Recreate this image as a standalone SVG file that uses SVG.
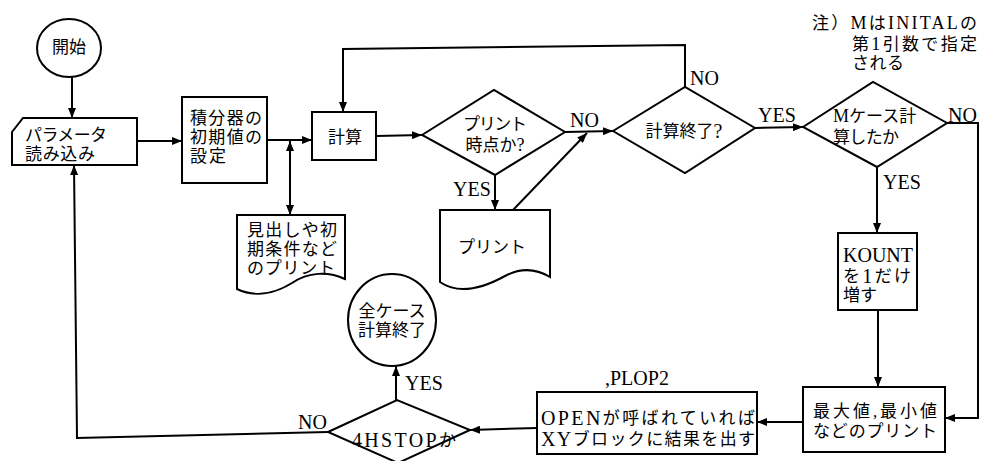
<svg xmlns="http://www.w3.org/2000/svg" width="981" height="461" viewBox="0 0 981 461">
<style>
.s{fill:#fff;stroke:#000;stroke-width:2;stroke-linejoin:miter}
.c{fill:none;stroke:#000;stroke-width:2}
.t{font-family:"Liberation Serif","Noto Sans CJK JP",serif;font-size:17px;fill:#000;dominant-baseline:central}
.l{font-family:"Liberation Serif","Noto Sans CJK JP",serif;font-size:20px;fill:#000;dominant-baseline:central}
.e{font-size:20px}
.f{font-size:18px}
.m{text-anchor:middle}
</style>
<defs>
<marker id="a" viewBox="0 0 10 8" refX="10" refY="4" markerWidth="10" markerHeight="8" markerUnits="userSpaceOnUse" orient="auto">
<path d="M0,0 L10,4 L0,8 Z" fill="#000"/>
</marker>
<marker id="as" viewBox="0 0 10 8" refX="10" refY="4" markerWidth="10" markerHeight="8" markerUnits="userSpaceOnUse" orient="auto-start-reverse">
<path d="M0,0 L10,4 L0,8 Z" fill="#000"/>
</marker>
</defs>
<rect width="981" height="461" fill="#fff"/>
<g id="connectors">
<line class="c" x1="72" y1="76" x2="72" y2="118" marker-end="url(#a)"/>
<line class="c" x1="137" y1="141" x2="182" y2="141" marker-end="url(#a)"/>
<line class="c" x1="267" y1="140" x2="312" y2="140" marker-end="url(#a)"/>
<line class="c" x1="290" y1="141" x2="290" y2="215" marker-start="url(#as)" marker-end="url(#a)"/>
<line class="c" x1="376" y1="136" x2="422" y2="135" marker-end="url(#a)"/>
<line class="c" x1="565" y1="132" x2="613" y2="131" marker-end="url(#a)"/>
<line class="c" x1="495" y1="175" x2="495" y2="210" marker-end="url(#a)"/>
<line class="c" x1="513" y1="210" x2="587" y2="133" marker-end="url(#a)"/>
<polyline class="c" points="685,87 685,45 343,49 343,112" marker-end="url(#a)"/>
<line class="c" x1="755" y1="128" x2="803" y2="127" marker-end="url(#a)"/>
<line class="c" x1="877" y1="167" x2="877" y2="233" marker-end="url(#a)"/>
<polyline class="c" points="947,123 978,123 978,418 945,418" marker-end="url(#a)"/>
<line class="c" x1="878" y1="310" x2="878" y2="387" marker-end="url(#a)"/>
<line class="c" x1="803" y1="422" x2="757" y2="422" marker-end="url(#a)"/>
<line class="c" x1="537" y1="428" x2="470" y2="430" marker-end="url(#a)"/>
<line class="c" x1="396" y1="400" x2="396" y2="366" marker-end="url(#a)"/>
<polyline class="c" points="328,432 77,438 74,165" marker-end="url(#a)"/>
</g>
<g id="start">
<ellipse class="s" cx="69" cy="48" rx="32" ry="29"/>
<text class="t m" x="69" y="47" font-size="19">開始</text>
</g>
<g id="params">
<path class="s" d="M23,118 H137 V165 H12 V132 Z"/>
<text class="t" x="25" y="135" textLength="82">パラメータ</text>
<text class="t" x="25" y="154" textLength="70">読み込み</text>
</g>
<g id="init">
<rect class="s" x="182" y="97" width="85" height="86"/>
<text class="t" x="190" y="118" textLength="72">積分器の</text>
<text class="t" x="190" y="137" textLength="72">初期値の</text>
<text class="t" x="190" y="156" textLength="36">設定</text>
</g>
<g id="heading-print">
<path class="s" d="M237,215 H345 V279 C328,271 308,272 292,283 C276,293 256,298 237,289 Z"/>
<text class="t" x="247" y="230" textLength="90">見出しや初</text>
<text class="t" x="247" y="249" textLength="90">期条件など</text>
<text class="t" x="247" y="268" textLength="88">のプリント</text>
</g>
<g id="calc">
<rect class="s" x="312" y="112" width="64" height="48"/>
<text class="t m" x="345" y="137">計算</text>
</g>
<g id="print-time">
<path class="s" d="M422,135 L494,90 L565,132 L495,175 Z"/>
<text class="t m" x="495" y="124" textLength="64">プリント</text>
<text class="t m" x="495" y="145">時点か<tspan class="f">?</tspan></text>
</g>
<g id="print">
<path class="s" d="M440,210 H550 V277 C535,268 520,268 505,276 C485,287 460,296 440,282 Z"/>
<text class="t m" x="492" y="247" textLength="68">プリント</text>
</g>
<g id="calc-end">
<path class="s" d="M613,131 L685,87 L755,128 L685,173 Z"/>
<text class="t m" x="684" y="131">計算終了<tspan class="e">?</tspan></text>
</g>
<g id="m-cases">
<path class="s" d="M803,127 L873,82 L947,123 L877,167 Z"/>
<text class="t" x="833" y="116"><tspan class="f">M</tspan>ケース計</text>
<text class="t" x="833" y="137" textLength="66">算したか</text>
</g>
<g id="note">
<text class="t" x="812" y="23" textLength="165">注）<tspan class="f">M</tspan>は<tspan class="f">INITAL</tspan>の</text>
<text class="t" x="852" y="44" textLength="125">第<tspan class="f">1</tspan>引数で指定</text>
<text class="t" x="852" y="63" textLength="52">される</text>
</g>
<g id="kount">
<rect class="s" x="838" y="233" width="79" height="77"/>
<text class="t" x="843" y="255"><tspan class="e">KOUNT</tspan></text>
<text class="t" x="843" y="276" textLength="68">を<tspan class="e">1</tspan>だけ</text>
<text class="t" x="843" y="295" textLength="34">増す</text>
</g>
<g id="maxmin">
<rect class="s" x="803" y="387" width="142" height="65"/>
<text class="t" x="813" y="411" textLength="124">最大値,最小値</text>
<text class="t" x="813" y="431" textLength="124">などのプリント</text>
</g>
<g id="open">
<rect class="s" x="537" y="392" width="220" height="62"/>
<text class="t" x="541" y="418" textLength="214"><tspan class="e">OPEN</tspan>が呼ばれていれば</text>
<text class="t" x="541" y="439" textLength="214"><tspan class="e">XY</tspan>ブロックに結果を出す</text>
<text class="t" x="605" y="378"><tspan class="e">,PLOP2</tspan></text>
</g>
<g id="stop4h">
<path class="s" d="M328,432 L397,400 L470,430 L398,463 Z"/>
<text class="t" x="352" y="440" textLength="104"><tspan class="e">4HSTOP</tspan>か</text>
</g>
<g id="all-end">
<ellipse class="s" cx="392" cy="320" rx="44" ry="46"/>
<text class="t m" x="392" y="311">全ケース</text>
<text class="t m" x="392" y="330">計算終了</text>
</g>
<g id="labels">
<text class="l" x="570" y="120">NO</text>
<text class="l" x="453" y="189">YES</text>
<text class="l" x="690" y="78">NO</text>
<text class="l" x="758" y="115">YES</text>
<text class="l" x="948" y="115">NO</text>
<text class="l" x="883" y="182">YES</text>
<text class="l" x="405" y="383">YES</text>
<text class="l" x="298" y="422">NO</text>
</g>
</svg>
